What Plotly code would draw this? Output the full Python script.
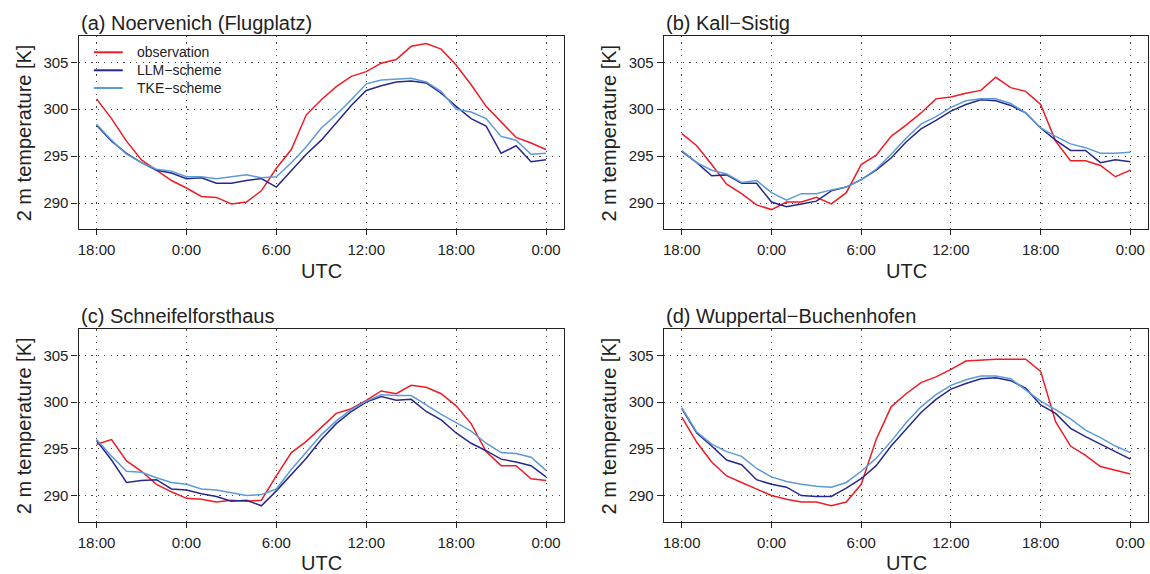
import plotly.graph_objects as go

# ---------------- data ----------------
hours = list(range(31))  # hours since 18:00 UTC
tick_vals = [0, 6, 12, 18, 24, 30]
tick_text = ["18:00", "0:00", "6:00", "12:00", "18:00", "0:00"]
y_ticks = [290, 295, 300, 305]

station_titles = ["(a) Noervenich (Flugplatz)", "(b) Kall\u2212Sistig",
                  "(c) Schneifelforsthaus", "(d) Wuppertal\u2212Buchenhofen"]
series_names = ["observation", "LLM\u2212scheme", "TKE\u2212scheme"]

obs_a = [301.1, 299.0, 296.6, 294.6, 293.5, 292.4, 291.6, 290.7, 290.6, 289.9, 290.1,
         291.3, 293.7, 295.7, 299.4, 301.0, 302.4, 303.5, 304.0, 304.9, 305.3, 306.7,
         307.0, 306.4, 304.7, 302.6, 300.3, 298.7, 297.0, 296.4, 295.7]
llm_a = [298.3, 296.6, 295.3, 294.3, 293.5, 293.2, 292.6, 292.7, 292.1, 292.1, 292.4,
         292.6, 291.7, 293.5, 295.2, 296.7, 298.6, 300.4, 302.0, 302.5, 302.9, 303.0,
         302.8, 301.7, 300.3, 299.0, 298.2, 295.3, 296.1, 294.4, 294.6]
tke_a = [298.4, 296.7, 295.2, 294.3, 293.6, 293.4, 292.8, 292.8, 292.6, 292.8, 293.0,
         292.7, 292.8, 294.3, 296.0, 298.0, 299.4, 301.0, 302.7, 303.1, 303.2, 303.3,
         302.9, 301.9, 300.0, 299.7, 299.0, 297.1, 296.7, 295.2, 295.3]

obs_b = [297.4, 296.1, 294.1, 292.0, 291.0, 289.8, 289.3, 290.1, 290.1, 290.6, 289.9,
         291.1, 294.1, 295.1, 297.1, 298.3, 299.6, 301.1, 301.3, 301.7, 302.0, 303.4,
         302.3, 301.9, 300.5, 296.6, 294.5, 294.5, 294.0, 292.8, 293.5]
llm_b = [295.5, 294.3, 292.9, 293.0, 292.1, 292.1, 290.1, 289.6, 289.9, 290.2, 291.3,
         291.7, 292.5, 293.5, 294.8, 296.5, 297.9, 298.8, 299.8, 300.5, 301.0, 300.9,
         300.4, 299.6, 298.0, 296.7, 295.6, 295.6, 294.3, 294.6, 294.4]
tke_b = [295.6, 294.3, 293.5, 293.1, 292.2, 292.4, 291.1, 290.3, 291.0, 291.0, 291.4,
         291.7, 292.5, 293.6, 295.2, 296.9, 298.4, 299.2, 300.2, 300.9, 301.1, 301.1,
         300.6, 299.6, 298.0, 297.1, 296.3, 295.9, 295.3, 295.3, 295.4]

obs_c = [295.5, 296.0, 293.7, 292.6, 291.2, 290.4, 289.7, 289.6, 289.3, 289.5, 289.4,
         289.5, 292.1, 294.6, 295.8, 297.3, 298.8, 299.3, 300.2, 301.2, 300.9, 301.8,
         301.6, 300.9, 299.6, 297.7, 294.7, 293.2, 293.2, 291.8, 291.6]
llm_c = [295.9, 293.8, 291.4, 291.6, 291.7, 290.7, 290.6, 290.2, 289.9, 289.4, 289.5,
         288.9, 290.5, 292.2, 294.0, 296.0, 297.7, 299.0, 300.0, 300.6, 300.2, 300.3,
         299.0, 298.1, 296.7, 295.6, 294.8, 293.9, 293.6, 293.2, 292.0]
tke_c = [296.0, 294.2, 292.6, 292.5, 291.9, 291.4, 291.2, 290.7, 290.6, 290.3, 290.0,
         290.1, 290.7, 292.8, 294.7, 296.5, 298.0, 299.2, 300.1, 300.8, 300.7, 300.7,
         299.7, 298.7, 297.8, 296.9, 295.6, 294.6, 294.5, 294.1, 292.7]

obs_d = [298.4, 295.7, 293.6, 292.1, 291.4, 290.7, 290.0, 289.6, 289.3, 289.3, 288.9,
         289.3, 291.2, 296.0, 299.5, 300.9, 302.1, 302.7, 303.5, 304.4, 304.5, 304.6,
         304.6, 304.6, 303.3, 297.9, 295.3, 294.3, 293.1, 292.7, 292.3]
llm_d = [299.3, 296.7, 295.3, 293.8, 293.3, 291.7, 291.2, 290.9, 290.0, 289.9, 289.9,
         290.8, 291.8, 293.2, 295.3, 297.1, 298.9, 300.3, 301.4, 302.0, 302.5, 302.6,
         302.3, 301.5, 299.7, 298.8, 297.2, 296.3, 295.5, 294.7, 293.9]
tke_d = [299.4, 296.8, 295.5, 294.7, 294.2, 292.9, 292.0, 291.5, 291.2, 291.0, 290.9,
         291.4, 292.6, 294.0, 295.8, 297.8, 299.5, 300.8, 301.8, 302.4, 302.8, 302.8,
         302.5, 301.3, 300.1, 299.2, 298.2, 297.0, 296.2, 295.3, 294.6]

panels = [(obs_a, llm_a, tke_a), (obs_b, llm_b, tke_b),
          (obs_c, llm_c, tke_c), (obs_d, llm_d, tke_d)]

# ---------------- style ----------------
W, H = 1150, 574
colors = ["#EE1C25", "#28288C", "#5B9BD8"]
FONT = "Liberation Sans, Arial, Helvetica, sans-serif"
TXT = "#222222"

# pixel boxes (left, right, top, bottom)
boxes = [(77.7, 564.0, 36.0, 229.3), (664.0, 1149.3, 36.0, 229.3),
         (77.7, 564.0, 329.3, 521.7), (664.0, 1149.3, 329.3, 521.7)]

fig = go.Figure()
layout = dict(
    width=W, height=H,
    margin=dict(l=0, r=0, t=0, b=0),
    paper_bgcolor="white", plot_bgcolor="white",
    font=dict(family=FONT, color=TXT, size=15),
    showlegend=False,
)
annotations = []
shapes = []

for k, (series, box) in enumerate(zip(panels, boxes)):
    l, r, t, b = box
    xs = "" if k == 0 else str(k + 1)
    xa, ya = "xaxis" + xs, "yaxis" + xs
    for j, (vals, name, col) in enumerate(zip(series, series_names, colors)):
        fig.add_trace(go.Scatter(
            x=hours, y=vals, mode="lines", name=name,
            line=dict(color=col, width=1.5),
            xaxis="x" + xs, yaxis="y" + xs))
    common = dict(showline=True, mirror=True, linecolor="#222", linewidth=1.3,
                  ticks="outside", tickcolor="#222", tickwidth=1.2,
                  showgrid=True, gridcolor="#444", gridwidth=1, griddash="1.2px,5.2px",
                  zeroline=False, tickfont=dict(size=15, family=FONT, color=TXT))
    layout[xa] = dict(common, domain=[l / W, r / W], range=[-1.2, 31.2],
                      tickvals=tick_vals, ticktext=tick_text, ticklen=5,
                      ticklabelstandoff=2, anchor="y" + xs)
    layout[ya] = dict(common, domain=[1 - b / H, 1 - t / H], range=[287.2, 307.8],
                      tickvals=y_ticks, ticklen=6, anchor="x" + xs)
    # panel title
    annotations.append(dict(text=station_titles[k], x=l / W, y=1 - (t - 13) / H,
                            xref="paper", yref="paper", xanchor="left", yanchor="middle",
                            showarrow=False, font=dict(size=20, family=FONT, color=TXT)))
    # x title
    annotations.append(dict(text="UTC", x=(l + r) / 2 / W, y=1 - (b + 41.5) / H,
                            xref="paper", yref="paper", xanchor="center", yanchor="middle",
                            showarrow=False, font=dict(size=20, family=FONT, color=TXT)))
    # y title
    annotations.append(dict(text="2 m temperature [K]", x=(l - 55) / W, y=1 - (t + b) / 2 / H,
                            xref="paper", yref="paper", xanchor="center", yanchor="middle",
                            textangle=-90, showarrow=False,
                            font=dict(size=20, family=FONT, color=TXT)))

# legend (panel a, top-left, no frame)
leg_rows = [52.3, 70.3, 88.0]
for name, col, yy in zip(series_names, colors, leg_rows):
    shapes.append(dict(type="line", xref="paper", yref="paper",
                       x0=93 / W, x1=122 / W, y0=1 - yy / H, y1=1 - yy / H,
                       line=dict(color=col, width=2)))
    annotations.append(dict(text=name, x=134 / W, y=1 - yy / H, xref="paper", yref="paper",
                            xanchor="left", yanchor="middle", showarrow=False,
                            font=dict(size=14, family=FONT, color=TXT)))

layout["annotations"] = annotations
layout["shapes"] = shapes
fig.update_layout(**layout)
fig.write_html("out.html")
